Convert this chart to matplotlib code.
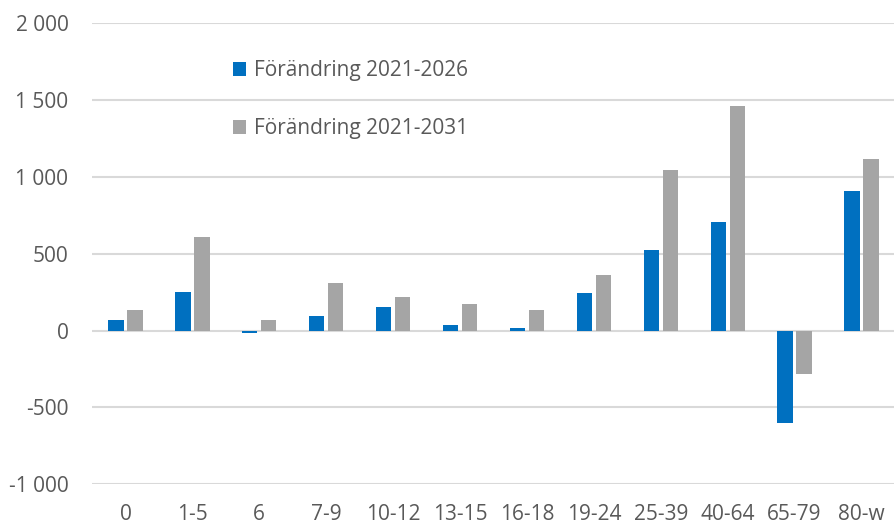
import matplotlib.pyplot as plt
import numpy as np
from matplotlib.ticker import FuncFormatter, MultipleLocator

# data
categories = ["0", "1-5", "6", "7-9", "10-12", "13-15", "16-18",
              "19-24", "25-39", "40-64", "65-79", "80-w"]
change_2026 = [72, 252, -15, 98, 151, 37, 20, 248, 527, 707, -602, 907]
change_2031 = [137, 611, 67, 307, 220, 172, 133, 359, 1045, 1459, -285, 1116]
series_labels = ["Förändring 2021-2026", "Förändring 2021-2031"]

plt.rcParams["font.family"] = ["Open Sans", "DejaVu Sans"]

fig = plt.figure(figsize=(8.95, 5.25), dpi=100)
ax = fig.add_axes([92 / 895, 1 - 484.3 / 525, 1 - 92 / 895, (484.3 - 23.3) / 525])

x = np.arange(len(categories))
w = 0.23
ax.bar(x - 0.142, change_2026, width=w, color="#0070C0", label=series_labels[0], zorder=3)
ax.bar(x + 0.142, change_2031, width=w, color="#A5A5A5", label=series_labels[1], zorder=3)

ax.set_xlim(-0.5, len(categories) - 0.5)
ax.set_ylim(-1000, 2000)
ax.yaxis.set_major_locator(MultipleLocator(500))
ax.yaxis.set_major_formatter(FuncFormatter(lambda v, p: f"{int(v):,}".replace(",", " ")))
ax.set_xticks(x)
ax.set_xticklabels(categories)

ax.grid(axis="y", color="#D9D9D9", linewidth=1.5, zorder=0)
for s in ax.spines.values():
    s.set_visible(False)
ax.tick_params(axis="both", length=0, labelsize=15, colors="#595959")
ax.tick_params(axis="x", pad=14.5)
ax.tick_params(axis="y", pad=17)

leg = ax.legend(loc="upper left", bbox_to_anchor=(0.152, 0.96), frameon=False,
                fontsize=15, handlelength=0.65, handleheight=0.65, handletextpad=0.35,
                labelspacing=1.75)
for t in leg.get_texts():
    t.set_color("#595959")

fig.savefig("out.png", dpi=100)
